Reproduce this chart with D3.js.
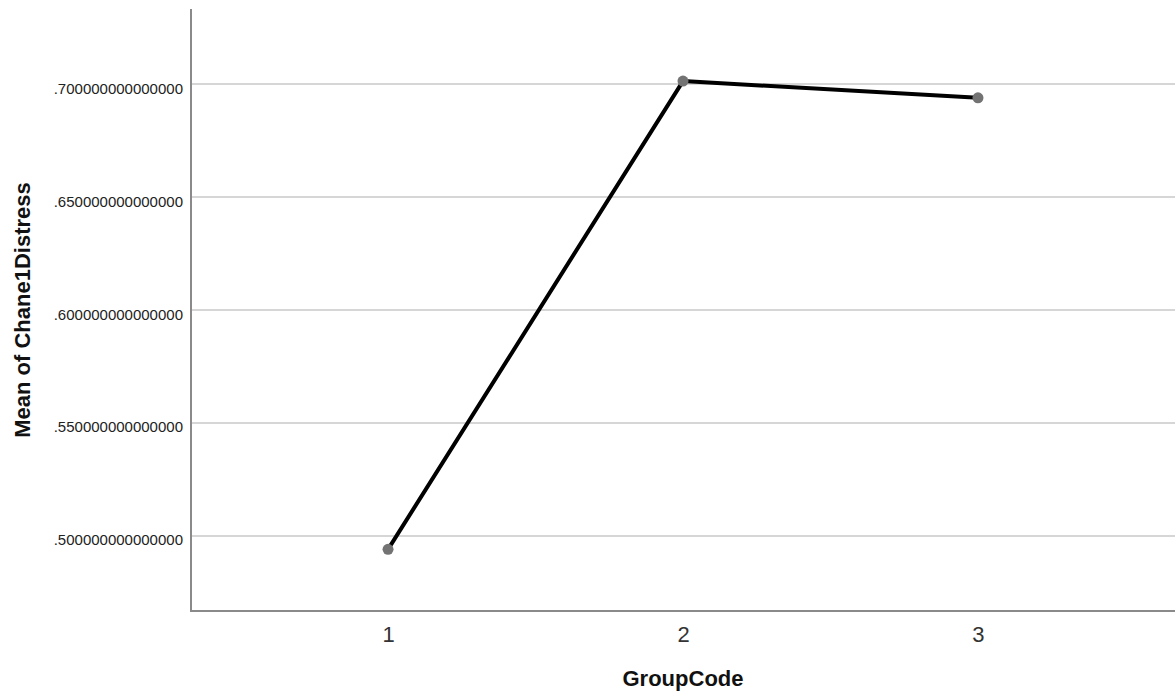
<!DOCTYPE html>
<html>
<head>
<meta charset="utf-8">
<script src="https://cdn.jsdelivr.net/npm/d3@7"></script>
<style>
  html, body { margin: 0; padding: 0; background: #fff; }
  svg { display: block; }
</style>
</head>
<body>
<script>
// ---- data ----
const groups = [1, 2, 3];
const means = [0.4941, 0.7013, 0.6939];
const yTicks = [0.50, 0.55, 0.60, 0.65, 0.70];
const xTitle = "GroupCode";
const yTitle = "Mean of Chane1Distress";

const W = 1175, H = 700;
const margin = { left: 191, right: 0, top: 9, bottom: 89 };

const svg = d3.select("body").append("svg").attr("width", W).attr("height", H);

const x = d3.scalePoint().domain(groups).range([margin.left, W - margin.right]).padding(0.668);
const y = d3.scaleLinear().domain([0.4668, 0.7332]).range([H - margin.bottom, margin.top]);

const fmt = v => d3.format(".15f")(v).replace(/^0/, "");

// gridlines
svg.append("g").selectAll("line").data(yTicks).join("line")
  .attr("x1", margin.left).attr("x2", W - margin.right)
  .attr("y1", d => y(d)).attr("y2", d => y(d))
  .attr("stroke", "#d6d6d6").attr("stroke-width", 2);

// y axis
const yAxis = svg.append("g").attr("transform", `translate(${margin.left},0)`)
  .call(d3.axisLeft(y).tickValues(yTicks).tickFormat(fmt).tickSize(0).tickPadding(8));
yAxis.select(".domain").remove();
yAxis.selectAll("text")
  .attr("font-family", "Liberation Sans, Arial, sans-serif")
  .attr("font-size", 15).attr("fill", "#222").attr("dy", "0.6em");

// x axis
const xAxis = svg.append("g").attr("transform", `translate(0,${H - margin.bottom})`)
  .call(d3.axisBottom(x).tickSize(0).tickPadding(15));
xAxis.select(".domain").remove();
xAxis.selectAll("text")
  .attr("font-family", "Liberation Sans, Arial, sans-serif")
  .attr("font-size", 22).attr("fill", "#333");

// axis lines
svg.append("line")
  .attr("x1", margin.left).attr("x2", margin.left)
  .attr("y1", margin.top).attr("y2", H - margin.bottom + 1)
  .attr("stroke", "#8a8a8a").attr("stroke-width", 2);
svg.append("line")
  .attr("x1", margin.left - 1).attr("x2", W)
  .attr("y1", H - margin.bottom).attr("y2", H - margin.bottom)
  .attr("stroke", "#8a8a8a").attr("stroke-width", 2);

// line
const data = groups.map((g, i) => ({ g, v: means[i] }));
svg.append("path").datum(data)
  .attr("d", d3.line().x(d => x(d.g)).y(d => y(d.v)))
  .attr("fill", "none").attr("stroke", "#000").attr("stroke-width", 4)
  .attr("stroke-linejoin", "round");

svg.append("g").selectAll("circle").data(data).join("circle")
  .attr("cx", d => x(d.g)).attr("cy", d => y(d.v)).attr("r", 5.5)
  .attr("fill", "#737373");

// titles
svg.append("text")
  .attr("x", (margin.left + W - margin.right) / 2).attr("y", 686)
  .attr("text-anchor", "middle")
  .attr("font-family", "Liberation Sans, Arial, sans-serif")
  .attr("font-size", 22).attr("font-weight", "bold").attr("fill", "#111")
  .text(xTitle);

svg.append("text")
  .attr("transform", `translate(30,${(margin.top + H - margin.bottom) / 2}) rotate(-90)`)
  .attr("text-anchor", "middle")
  .attr("font-family", "Liberation Sans, Arial, sans-serif")
  .attr("font-size", 22).attr("font-weight", "bold").attr("fill", "#111")
  .text(yTitle);
</script>
</body>
</html>
